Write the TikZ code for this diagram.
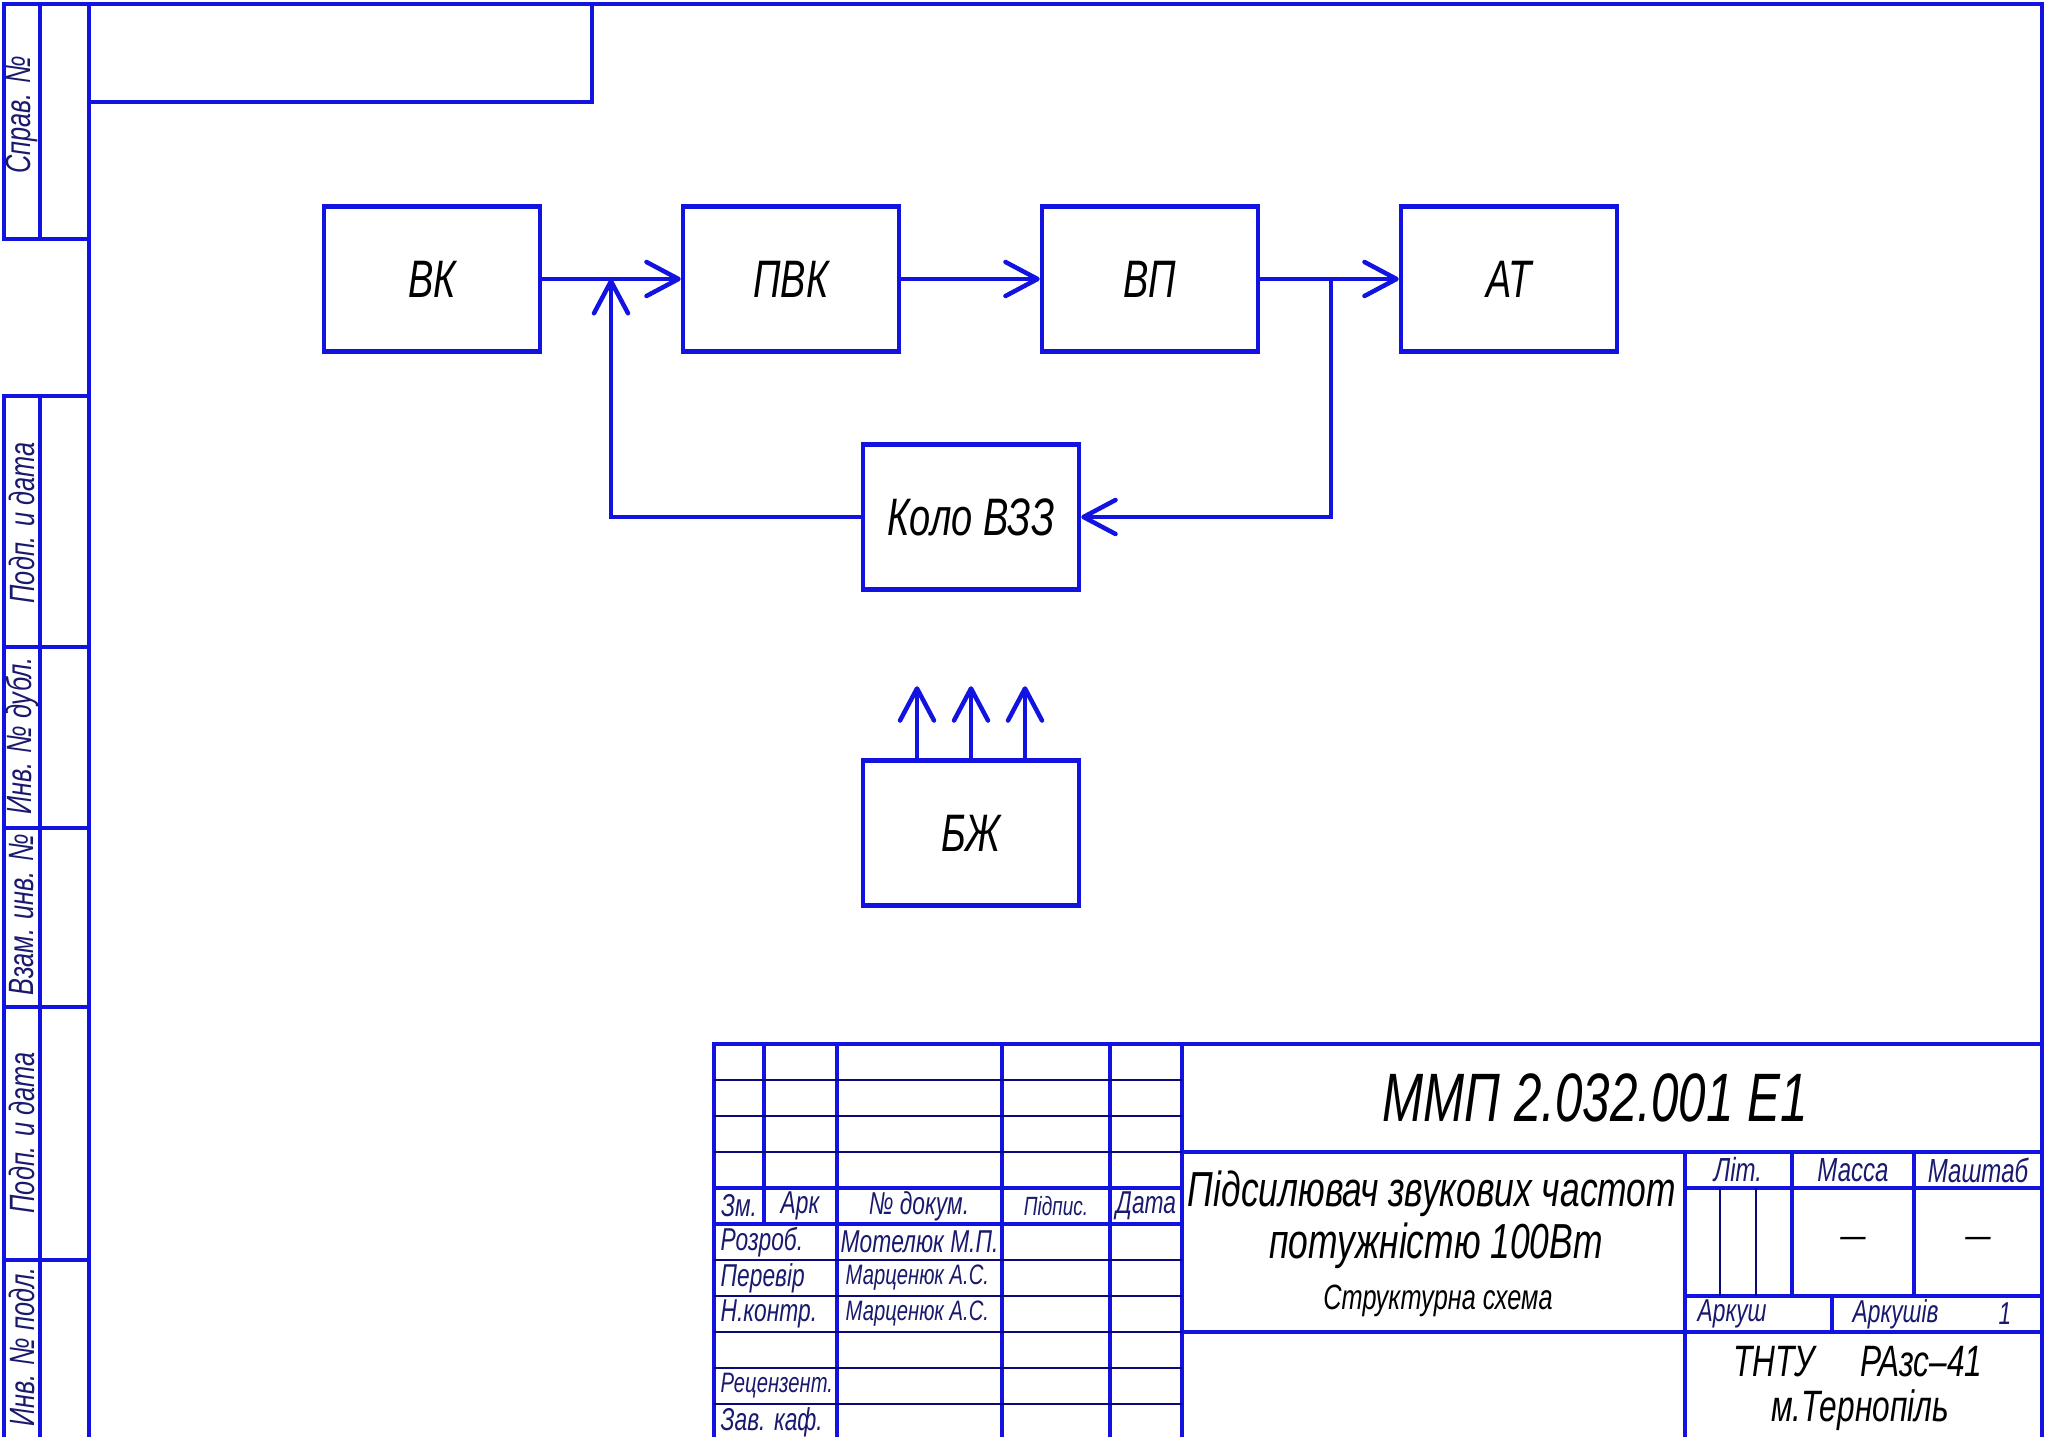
\documentclass[tikz,border=0pt]{standalone}
\usepackage{fontspec}
\usetikzlibrary{arrows.meta}
\newfontfamily\gost{Liberation Sans}[FakeStretch=0.72]
\definecolor{sinij}{RGB}{18,18,225}
\definecolor{temnij}{RGB}{25,25,110}

\begin{document}
\begin{tikzpicture}[x=0.1mm, y=-0.1mm, node distance=3.59cm,
    blok/.style={draw=sinij, line width=0.45mm, minimum width=21.6mm, minimum height=14.5mm, inner sep=0pt, font=\gost\itshape\fontsize{15}{18}\selectfont},
    strel/.style={draw=sinij, line width=0.45mm, -{Straight Barb[length=3.2mm, width=3.4mm, round]}},
    ramka/.style={draw=sinij, line width=0.38mm},
    tonka/.style={draw=sinij!55!black, line width=0.12mm},
    mal/.style={text=temnij, inner sep=0pt, font=\gost\itshape\fontsize{9}{11}\selectfont},
    bok/.style={mal, rotate=90, font=\gost\itshape\fontsize{10}{12}\selectfont},
    vel/.style={inner sep=0pt, font=\gost\itshape\fontsize{#1}{#1}\selectfont}]
    \useasboundingbox (0,0) rectangle (2050,1437);

    \draw[ramka] (89,1440) -- (89,4) -- (2042,4) -- (2042,1440);
    \draw[ramka] (89,102) -| (592,4);
    \draw[ramka] (89,4) -- (4,4) -- (4,239) -- (89,239);
    \draw[ramka] (40,4) -- (40,239);
    \draw[ramka] (89,396) -- (4,396) -- (4,1440);
    \draw[ramka] (40,396) -- (40,1440);
    \foreach \y in {647,828,1007,1260}
        \draw[ramka] (4,\y) -- (89,\y);

    \node[bok] (sprav) at (22,115) {Справ. №};
    \node[bok] (pidp1) at (22,523) {Подп. и дата};
    \node[bok] (dubl) at (22,736) {Инв. № дубл.};
    \node[bok] (vzam) at (22,915) {Взам. инв. №};
    \node[bok] (pidp2) at (22,1133) {Подп. и дата};
    \node[bok] (podl) at (22,1347) {Инв. № подл.};

    \node[blok] (vk) at (432,279) {ВК};
    \node[blok, right of=vk] (pvk) {ПВК};
    \node[blok, right of=pvk] (vp) {ВП};
    \node[blok, right of=vp] (at) {АТ};
    \node[blok] (kolo) at (971,517) {Коло ВЗЗ};
    \node[blok] (bzh) at (971,833) {БЖ};
    \coordinate (vuzol) at (1331,279);
    \coordinate (vhid) at (611,279);

    \draw[strel] (vk) -- (pvk);
    \draw[strel] (pvk) -- (vp);
    \draw[strel] (vp) -- (at);
    \draw[strel] (vuzol) |- (kolo);
    \draw[strel] (kolo) -| (vhid);
    \foreach \dx in {-5.4,0,5.4}
        \draw[strel] ([xshift=\dx mm]bzh.north) -- ++(0,-72);

    \draw[ramka] (714,1440) -- (714,1044) -- (2042,1044);
    \draw[ramka] (764,1044) -- (764,1224);
    \foreach \x in {837,1002,1110,1182}
        \draw[ramka] (\x,1044) -- (\x,1440);
    \draw[ramka] (714,1188) -- (1182,1188);
    \draw[ramka] (714,1224) -- (1182,1224);
    \foreach \y in {1080,1116,1152,1260,1296,1332,1368,1404}
        \draw[tonka] (714,\y) -- (1182,\y);
    \draw[ramka] (1182,1152) -- (2042,1152);
    \draw[ramka] (1182,1332) -- (2042,1332);
    \draw[ramka] (1685,1188) -- (2042,1188);
    \draw[ramka] (1685,1296) -- (2042,1296);
    \draw[ramka] (1685,1152) -- (1685,1440);
    \draw[ramka] (1792,1152) -- (1792,1296);
    \draw[ramka] (1914,1152) -- (1914,1296);
    \draw[ramka] (1832,1296) -- (1832,1332);
    \draw[tonka] (1720,1188) -- (1720,1296);
    \draw[tonka] (1756,1188) -- (1756,1296);

    \node[mal] (zm) at (739,1206) {Зм.};
    \node[mal] (ark) at (800,1206) {Арк};
    \node[mal] (dok) at (919,1206) {№ докум.};
    \node[mal, font=\gost\itshape\fontsize{7.5}{9}\selectfont] (pidpys) at (1056,1206) {Підпис.};
    \node[mal] (data) at (1146,1206) {Дата};
    \node[mal, anchor=west] (rozrob) at (720,1242) {Розроб.};
    \node[mal, anchor=west] (motel) at (840,1242) {Мотелюк М.П.};
    \node[mal, anchor=west] (perev) at (720,1278) {Перевір};
    \node[mal, anchor=west, font=\gost\itshape\fontsize{8}{9}\selectfont] (marc1) at (845,1278) {Марценюк А.С.};
    \node[mal, anchor=west] (nkontr) at (720,1314) {Н.контр.};
    \node[mal, anchor=west, font=\gost\itshape\fontsize{8}{9}\selectfont] (marc2) at (845,1314) {Марценюк А.С.};
    \node[mal, anchor=west, font=\gost\itshape\fontsize{8}{9}\selectfont] (recenz) at (720,1386) {Рецензент.};
    \node[mal, anchor=west] (zavkaf) at (720,1422) {Зав. каф.};

    \node[vel=19.5] (poznach) at (1595,1098) {ММП 2.032.001 Е1};
    \node[vel=14] (nazva1) at (1432,1194) {Підсилювач звукових частот};
    \node[vel=14] (nazva2) at (1436,1246) {потужністю 100Вт};
    \node[vel=10] (shema) at (1438,1301) {Структурна схема};
    \node[mal, font=\gost\itshape\fontsize{9.5}{11}\selectfont] (lit) at (1738,1170) {Літ.};
    \node[mal, font=\gost\itshape\fontsize{9.5}{11}\selectfont] (masa) at (1853,1170) {Масса};
    \node[mal, font=\gost\itshape\fontsize{9.5}{11}\selectfont] (masht) at (1978,1170) {Маштаб};
    \node[vel=10] (tire1) at (1853,1242) {—};
    \node[vel=10] (tire2) at (1978,1242) {—};
    \node[mal, anchor=west] (arkush) at (1697,1314) {Аркуш};
    \node[mal, anchor=west] (arkushiv) at (1852,1314) {Аркушів};
    \node[mal] (odyn) at (2005,1314) {1};
    \node[vel=12.5] (tntu) at (1858,1362) {ТНТУ\hspace{4.5mm}РАзс–41};
    \node[vel=12.5] (misto) at (1860,1410) {м.Тернопіль};
\end{tikzpicture}
\end{document}
